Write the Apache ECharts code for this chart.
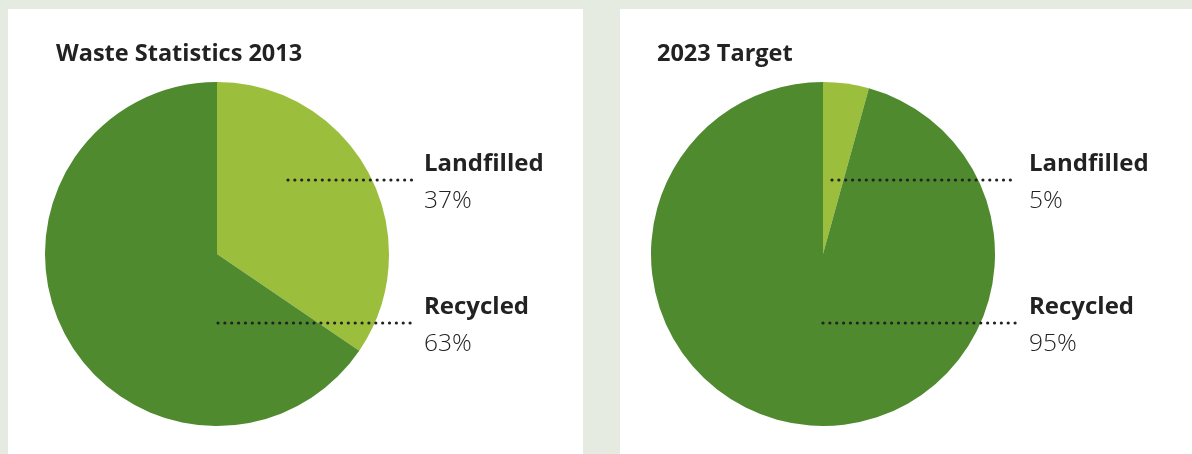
<!DOCTYPE html>
<html><head><meta charset="utf-8">
<script src="https://cdn.jsdelivr.net/npm/echarts@6/dist/echarts.min.js"></script>
<style>html,body{margin:0;padding:0;background:#e5ebe0}#c{width:1192px;height:454px}</style>
</head><body><div id="c"></div>
<script>
const titles = ['Waste Statistics 2013', '2023 Target'];
const categories = ['Landfilled', 'Recycled'];
// percentage labels printed on the chart
const labels2013 = ['37%', '63%'];
const labels2023 = ['5%', '95%'];
// slice shares as drawn in the picture
const values2013 = [34.5, 65.5];
const values2023 = [4.3, 95.7];
const colors = ['#9bbe3d', '#4f8a2f'];

const chart = echarts.init(document.getElementById('c'), null, {renderer: 'canvas'});

const panels = [
  {x: 8, w: 575, cx: 217, values: values2013, labels: labels2013, title: titles[0], tx: 57, lineEnd: 412, starts: [288, 218]},
  {x: 620, w: 572, cx: 823, values: values2023, labels: labels2023, title: titles[1], tx: 658, lineEnd: 1017, starts: [832, 823]}
];
const cy = 254, R = 172;
const labelY = [180, 323];

const graphic = [];
const series = [];
panels.forEach(p => {
  graphic.push({type: 'rect', z: -10, shape: {x: p.x, y: 9, width: p.w, height: 460}, style: {fill: '#ffffff'}, silent: true});
  graphic.push({type: 'text', z: 100, x: p.tx - 1, y: 54, style: {text: p.title, font: 'bold 23.5px "Open Sans"', fill: '#222222', textVerticalAlign: 'middle'}});
  categories.forEach((c, i) => {
    graphic.push({type: 'line', z: 100, shape: {x1: p.starts[i], y1: labelY[i], x2: p.lineEnd, y2: labelY[i]},
      style: {stroke: '#222222', lineWidth: 3.2, lineDash: [0.01, 6.85], lineCap: 'round'}});
    graphic.push({type: 'text', z: 100, x: p.lineEnd + 12, y: labelY[i] - 16, style: {text: c, font: 'bold 24px "Open Sans"', fill: '#222222', textVerticalAlign: 'middle'}});
    graphic.push({type: 'text', z: 100, x: p.lineEnd + 12, y: labelY[i] + 21, style: {text: p.labels[i], font: '300 24.5px "Open Sans"', fill: '#222222', textVerticalAlign: 'middle'}});
  });
  series.push({
    type: 'pie', center: [p.cx, cy], radius: R, startAngle: 90, clockwise: true,
    silent: true, animation: false, label: {show: false}, labelLine: {show: false},
    data: categories.map((c, i) => ({name: c, value: p.values[i], itemStyle: {color: colors[i]}}))
  });
});

chart.setOption({
  backgroundColor: '#e5ebe0',
  animation: false,
  graphic: graphic,
  series: series
});
</script></body></html>
